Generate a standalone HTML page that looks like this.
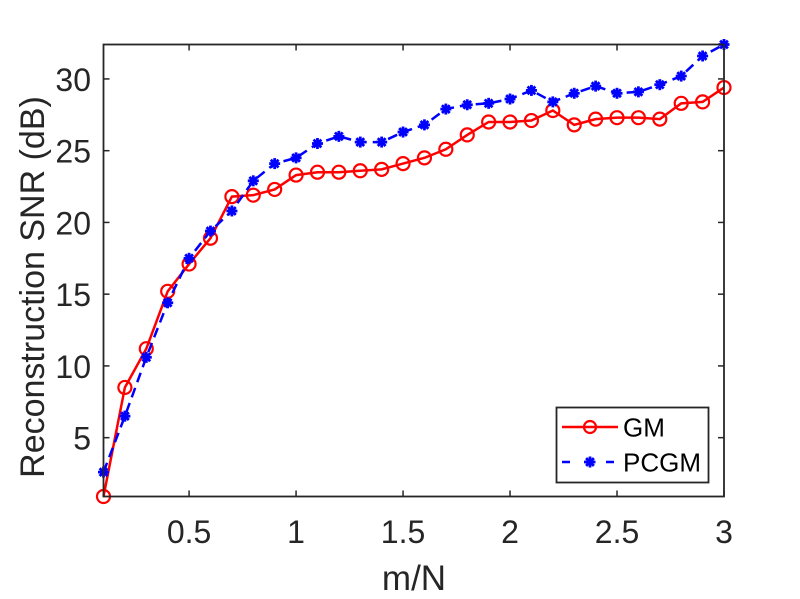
<!DOCTYPE html>
<html><head><meta charset="utf-8"><style>
body{margin:0;background:#fff}
svg{display:block;font-family:"Liberation Sans",Arial,sans-serif}
</style></head><body>
<svg id="chart" width="800" height="599" viewBox="0 0 800 599">
<rect width="800" height="599" fill="#fff"/>
<g id="plot"></g>
</svg>
<script>
const xValues=[0.1,0.2,0.3,0.4,0.5,0.6,0.7,0.8,0.9,1.0,1.1,1.2,1.3,1.4,1.5,1.6,1.7,1.8,1.9,2.0,2.1,2.2,2.3,2.4,2.5,2.6,2.7,2.8,2.9,3.0];
const gmValues=[0.9,8.5,11.2,15.2,17.1,18.9,21.8,21.9,22.3,23.3,23.5,23.5,23.6,23.7,24.1,24.5,25.1,26.1,27.0,27.0,27.1,27.8,26.8,27.2,27.3,27.3,27.2,28.3,28.4,29.4];
const pcgmValues=[2.6,6.5,10.6,14.4,17.5,19.4,20.8,22.9,24.1,24.5,25.5,26.0,25.6,25.6,26.3,26.8,27.9,28.2,28.3,28.6,29.2,28.4,29.0,29.5,29.0,29.1,29.6,30.2,31.6,32.4];
const xTicks=[0.5,1,1.5,2,2.5,3];
const xTickLabels=["0.5","1","1.5","2","2.5","3"];
const yTicks=[5,10,15,20,25,30];
const yTickLabels=["5","10","15","20","25","30"];

const L=103.5,R=724,T=44.5,B=496.5;
const xMin=0.1,xMax=3.0;
const yMin=Math.min(...gmValues,...pcgmValues),yMax=Math.max(...gmValues,...pcgmValues);
const sx=v=>L+(v-xMin)/(xMax-xMin)*(R-L);
const sy=v=>B-(v-yMin)/(yMax-yMin)*(B-T);
const NS='http://www.w3.org/2000/svg';
const g=document.getElementById('plot');
function mk(tag,attrs,parent){const e=document.createElementNS(NS,tag);for(const k in attrs)e.setAttribute(k,attrs[k]);(parent||g).appendChild(e);return e;}

xTicks.forEach((v,i)=>{
  const x=sx(v);
  const t1=mk('line',{x1:x,x2:x,y1:B,y2:B-6,stroke:'#262626','stroke-width':1.5});
  
  
  const t2=mk('line',{x1:x,x2:x,y1:T,y2:T+6,stroke:'#262626','stroke-width':1.5});
  
  
  const lb=mk('text',{x:x,y:543,'text-anchor':'middle','font-size':32,fill:'#262626'});
  lb.textContent=xTickLabels[i];
  
  
});
yTicks.forEach((v,i)=>{
  const y=sy(v);
  const t1=mk('line',{x1:L,x2:L+6,y1:y,y2:y,stroke:'#262626','stroke-width':1.5});
  
  
  const t2=mk('line',{x1:R,x2:R-6,y1:y,y2:y,stroke:'#262626','stroke-width':1.5});
  
  
  const lb=mk('text',{x:91,y:y+12,'text-anchor':'end','font-size':32,fill:'#262626'});
  lb.textContent=yTickLabels[i];
  
  
});

const gmPts=xValues.map((x,i)=>sx(x)+','+sy(gmValues[i])).join(' ');
const gmLine=mk('polyline',{points:gmPts,fill:'none',stroke:'#ff0000','stroke-width':2.5});


xValues.forEach((x,i)=>{
  const c=mk('circle',{cx:sx(x),cy:sy(gmValues[i]),r:6.5,fill:'none',stroke:'#ff0000','stroke-width':2.2});
  
  
});
const pcPts=xValues.map((x,i)=>sx(x)+','+sy(pcgmValues[i])).join(' ');
const pcLine=mk('polyline',{points:pcPts,fill:'none',stroke:'#0000ff','stroke-width':2.5,'stroke-dasharray':'10,6'});


function star(cx,cy,parent,name){
  const gg=mk('g',{},parent);
  
  
  for(let k=0;k<4;k++){const a=k*Math.PI/4,r=5.5;
    mk('line',{x1:cx-r*Math.cos(a),y1:cy-r*Math.sin(a),x2:cx+r*Math.cos(a),y2:cy+r*Math.sin(a),stroke:'#0000ff','stroke-width':2.8},gg);}
  mk('circle',{cx:cx,cy:cy,r:3,fill:'#0000ff'},gg);
}
xValues.forEach((x,i)=>star(sx(x),sy(pcgmValues[i]),g,'pcgm-marker'));

const box=mk('rect',{x:L,y:T,width:R-L,height:B-T,fill:'none',stroke:'#262626','stroke-width':1.8});



const lg=mk('g',{});


mk('rect',{x:556.5,y:407.5,width:152,height:75,fill:'#fff',stroke:'#262626','stroke-width':1.8},lg);
mk('line',{x1:562,x2:618,y1:427,y2:427,stroke:'#ff0000','stroke-width':2.5},lg);
mk('circle',{cx:590,cy:427,r:6,fill:'none',stroke:'#ff0000','stroke-width':2.2},lg);
const t1=mk('text',{x:623,y:436.5,'font-size':26,fill:'#000'},lg);t1.textContent='GM';


mk('line',{x1:562,x2:618,y1:462,y2:462,stroke:'#0000ff','stroke-width':2.5,'stroke-dasharray':'8,14'},lg);
star(590,462,lg,'legend-pcgm-marker');
const t2=mk('text',{x:623,y:471.5,'font-size':26,fill:'#000'},lg);t2.textContent='PCGM';



const xt=mk('text',{x:414,y:590,'text-anchor':'middle','font-size':35,fill:'#262626'});
xt.textContent='m/N';


const yt=mk('text',{x:0,y:0,'text-anchor':'middle','font-size':34,fill:'#262626',transform:'translate(44,287) rotate(-90)'});
yt.textContent='Reconstruction SNR (dB)';


</script>
</body></html>
